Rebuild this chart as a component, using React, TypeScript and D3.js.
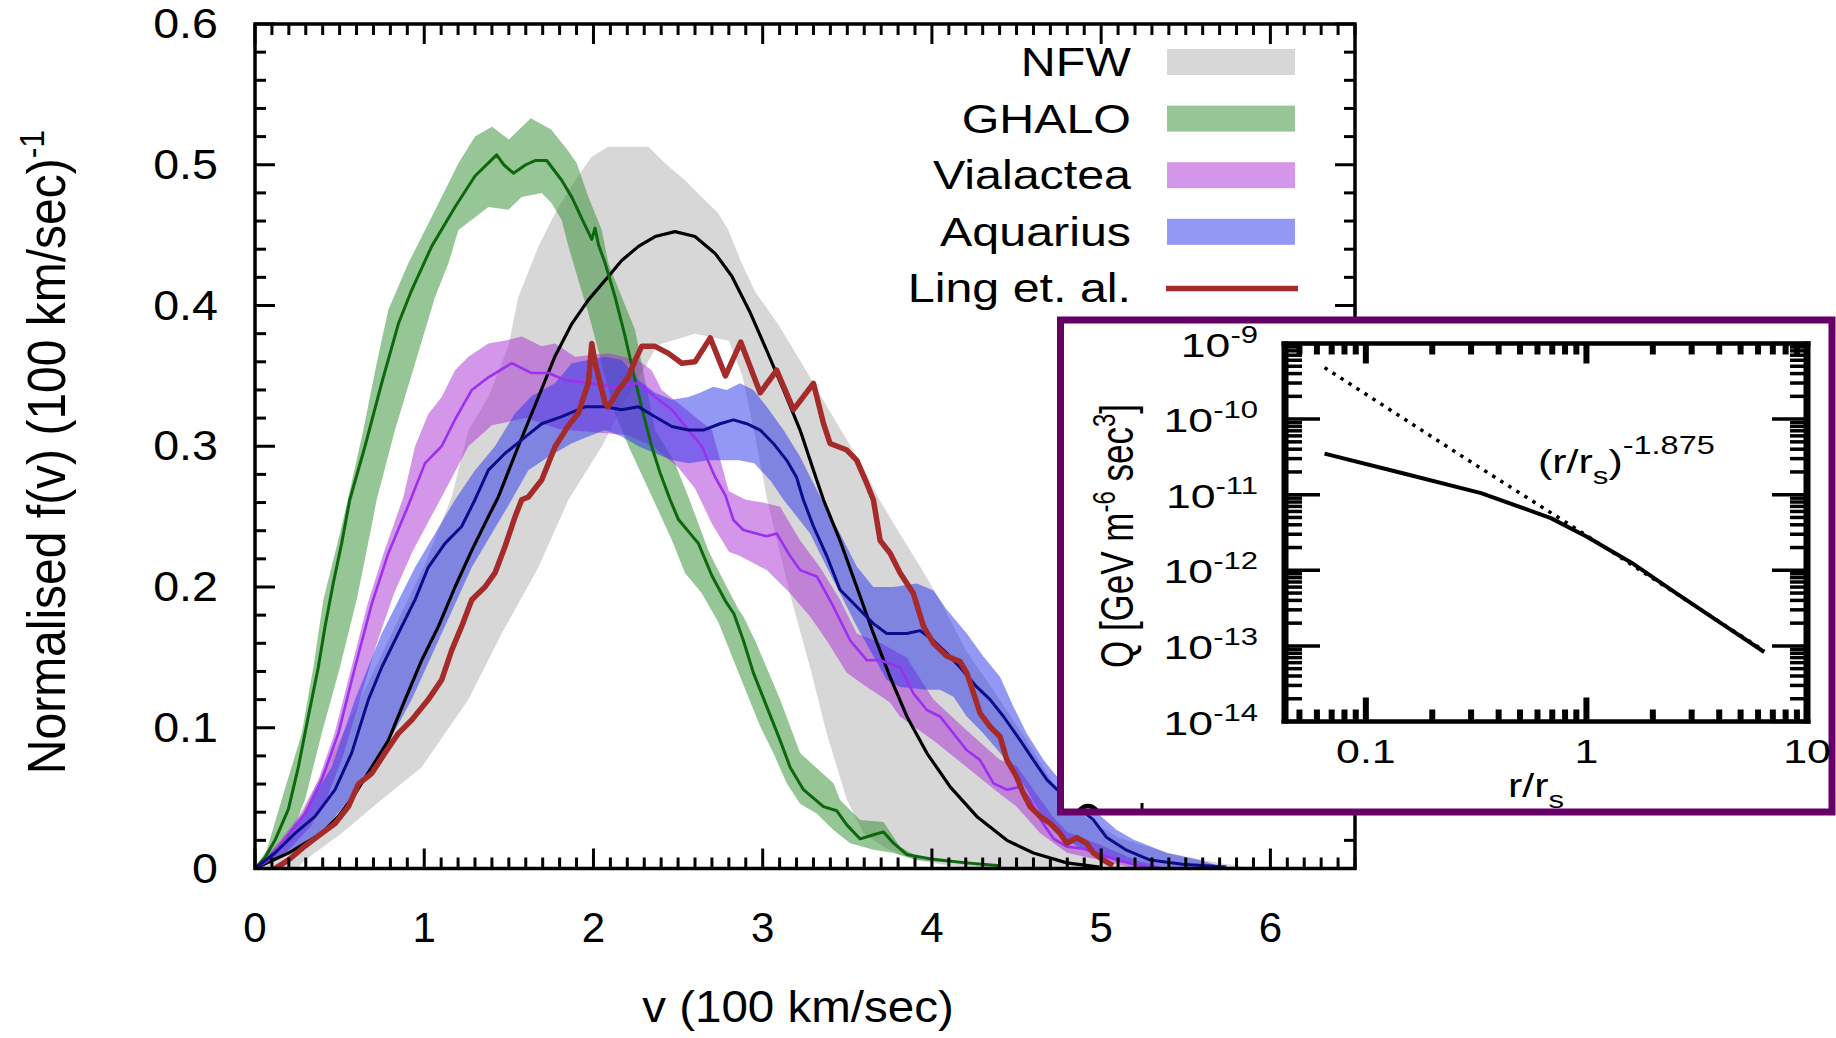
import React, { useEffect, useRef } from "react";
import * as d3 from "d3";

type P = [number, number];

// ---------- main panel data: v (100 km/s), f(v) ----------
const NFW_MEAN: P[] = [[0,0],[0.197,0.011],[0.394,0.025],[0.4925,0.037],[0.591,0.053],[0.69,0.072],[0.788,0.091],[0.887,0.12],[0.985,0.148],[1.084,0.172],[1.182,0.2],[1.281,0.226],[1.379,0.25],[1.438,0.264],[1.556,0.3],[1.675,0.335],[1.773,0.364],[1.872,0.387],[1.97,0.404],[2.069,0.418],[2.167,0.432],[2.266,0.442],[2.364,0.449],[2.482,0.4525],[2.6,0.449],[2.719,0.437],[2.817,0.421],[2.926,0.395],[3.024,0.368],[3.123,0.34],[3.221,0.3115],[3.3,0.283],[3.359,0.262],[3.457,0.233],[3.556,0.2],[3.654,0.167],[3.753,0.136],[3.852,0.108],[3.97,0.082],[4.108,0.058],[4.265,0.037],[4.443,0.02],[4.6,0.011],[4.797,0.004],[4.99,0.001]];
const NFW_UPPER: P[] = [[0,0],[0.2,0.025],[0.4,0.068],[0.6,0.115],[0.8,0.165],[1.0,0.215],[1.162,0.264],[1.261,0.3115],[1.379,0.335],[1.497,0.371],[1.556,0.406],[1.675,0.442],[1.773,0.4655],[1.891,0.489],[1.99,0.5057],[2.088,0.5128],[2.325,0.5128],[2.423,0.501],[2.541,0.489],[2.64,0.477],[2.738,0.4655],[2.797,0.4536],[2.876,0.43],[2.955,0.41],[3.1,0.385],[3.25,0.355],[3.42,0.32],[3.58,0.288],[3.69,0.262],[3.81,0.238],[3.93,0.2145],[4.05,0.19],[4.2,0.155],[4.4,0.12],[4.56,0.091],[4.72,0.06],[4.9,0.037],[5.1,0.022],[5.4,0.011],[5.6,0.006],[5.9,0]];
const NFW_LOWER: P[] = [[0,0],[0.25,0],[0.296,0.006],[0.512,0.025],[0.749,0.049],[0.985,0.072],[1.261,0.12],[1.458,0.167],[1.675,0.214],[1.852,0.262],[2.05,0.3],[2.2,0.335],[2.38,0.372],[2.6,0.38],[2.8,0.375],[2.88,0.35],[2.95,0.31],[3.03,0.26],[3.1,0.225],[3.17,0.191],[3.28,0.143],[3.378,0.096],[3.497,0.049],[3.595,0.025],[3.733,0.014],[3.9,0.006],[4.2,0],[5.9,0]];

const GHALO_MEAN: P[] = [[0,0],[0.06,0.008],[0.118,0.02],[0.197,0.042],[0.256,0.072],[0.315,0.108],[0.374,0.143],[0.414,0.172],[0.463,0.203],[0.512,0.231],[0.56,0.262],[0.65,0.3],[0.749,0.345],[0.847,0.387],[0.926,0.411],[1.044,0.442],[1.182,0.47],[1.3,0.492],[1.428,0.507],[1.47,0.5],[1.527,0.494],[1.6,0.5],[1.655,0.503],[1.724,0.503],[1.812,0.489],[1.872,0.477],[1.93,0.462],[1.99,0.447],[2.009,0.455],[2.03,0.443],[2.069,0.43],[2.128,0.406],[2.187,0.378],[2.246,0.347],[2.295,0.323],[2.344,0.3],[2.394,0.281],[2.453,0.262],[2.502,0.248],[2.62,0.231],[2.7,0.208],[2.78,0.19],[2.83,0.181],[2.886,0.162],[2.945,0.139],[3.024,0.115],[3.103,0.091],[3.162,0.072],[3.241,0.056],[3.359,0.044],[3.438,0.041],[3.497,0.031],[3.576,0.021],[3.655,0.024],[3.714,0.026],[3.773,0.018],[3.851,0.01],[4.009,0.0065],[4.206,0.004],[4.403,0.002]];
const GHALO_UPPER: P[] = [[0,0],[0.069,0.013],[0.158,0.049],[0.276,0.096],[0.345,0.143],[0.404,0.191],[0.502,0.238],[0.552,0.264],[0.64,0.3115],[0.719,0.359],[0.788,0.397],[0.906,0.43],[1.005,0.4536],[1.103,0.477],[1.202,0.501],[1.3,0.52],[1.4,0.527],[1.5,0.518],[1.63,0.533],[1.75,0.525],[1.85,0.51],[1.901,0.501],[1.97,0.477],[2.049,0.4536],[2.088,0.43],[2.167,0.406],[2.246,0.3826],[2.285,0.359],[2.325,0.335],[2.364,0.3115],[2.482,0.288],[2.561,0.264],[2.679,0.226],[2.758,0.207],[2.857,0.184],[2.886,0.179],[2.955,0.162],[3.103,0.12],[3.221,0.082],[3.418,0.0605],[3.457,0.0487],[3.576,0.0345],[3.714,0.033],[3.812,0.0155],[3.91,0.0085],[4.1,0.005],[4.45,0]];
const GHALO_LOWER: P[] = [[0,0],[0.1,0.006],[0.217,0.025],[0.296,0.049],[0.394,0.096],[0.502,0.143],[0.601,0.191],[0.68,0.238],[0.719,0.262],[0.827,0.3115],[0.946,0.359],[1.064,0.406],[1.143,0.43],[1.202,0.4536],[1.379,0.47],[1.497,0.468],[1.576,0.477],[1.694,0.48],[1.753,0.4726],[1.812,0.4607],[1.852,0.442],[1.911,0.418],[1.97,0.3945],[2.049,0.359],[2.128,0.3234],[2.207,0.3],[2.354,0.262],[2.463,0.2334],[2.541,0.21],[2.64,0.1955],[2.738,0.175],[2.827,0.1482],[2.906,0.1245],[2.985,0.101],[3.063,0.082],[3.142,0.0605],[3.221,0.046],[3.319,0.039],[3.418,0.0274],[3.517,0.018],[3.655,0.0133],[3.773,0.011],[3.91,0.006],[4.1,0.004],[4.45,0]];

const VIA_MEAN: P[] = [[0,0],[0.08,0.006],[0.158,0.018],[0.296,0.039],[0.394,0.063],[0.4925,0.096],[0.591,0.143],[0.69,0.188],[0.788,0.224],[0.896,0.255],[1.005,0.288],[1.103,0.3],[1.182,0.319],[1.281,0.34],[1.379,0.349],[1.517,0.359],[1.635,0.352],[1.734,0.352],[1.832,0.347],[1.97,0.345],[2.128,0.342],[2.266,0.345],[2.364,0.335],[2.463,0.326],[2.561,0.3115],[2.64,0.3],[2.719,0.278],[2.78,0.265],[2.827,0.2476],[2.886,0.2405],[3.024,0.236],[3.083,0.238],[3.162,0.222],[3.221,0.212],[3.32,0.2075],[3.418,0.186],[3.517,0.162],[3.615,0.148],[3.694,0.148],[3.812,0.143],[3.89,0.1245],[3.97,0.1126],[4.048,0.108],[4.127,0.096],[4.206,0.084],[4.285,0.077],[4.364,0.0605],[4.443,0.056],[4.522,0.058],[4.58,0.049],[4.64,0.035],[4.72,0.021],[4.797,0.0155],[4.9,0.014],[4.99,0.0107],[5.09,0.006],[5.23,0.002],[5.39,0]];
const VIA_UPPER: P[] = [[0,0],[0.15,0.02],[0.28,0.04],[0.375,0.063],[0.47,0.096],[0.57,0.143],[0.665,0.188],[0.76,0.224],[0.877,0.264],[0.946,0.3],[1.024,0.323],[1.103,0.335],[1.182,0.354],[1.261,0.3636],[1.379,0.373],[1.497,0.3755],[1.576,0.378],[1.694,0.371],[1.773,0.373],[1.891,0.3636],[2.088,0.366],[2.266,0.361],[2.344,0.354],[2.403,0.34],[2.502,0.3305],[2.6,0.321],[2.699,0.3115],[2.75,0.29],[2.8,0.268],[2.9,0.262],[3.0,0.26],[3.103,0.257],[3.221,0.233],[3.339,0.214],[3.457,0.191],[3.556,0.167],[3.7,0.16],[3.85,0.15],[4.009,0.12],[4.206,0.098],[4.403,0.077],[4.5,0.073],[4.6,0.056],[4.72,0.036],[4.8,0.026],[4.99,0.017],[5.2,0.006],[5.4,0]];
const VIA_LOWER: P[] = [[0,0],[0.19,0.012],[0.33,0.03],[0.425,0.05],[0.52,0.08],[0.62,0.12],[0.72,0.16],[0.82,0.195],[0.93,0.225],[1.103,0.264],[1.261,0.3],[1.4,0.315],[1.6,0.32],[1.8,0.312],[2.0,0.31],[2.2,0.308],[2.35,0.3],[2.5,0.285],[2.6,0.27],[2.7,0.245],[2.8,0.225],[2.866,0.222],[3.024,0.212],[3.162,0.1955],[3.28,0.179],[3.378,0.162],[3.497,0.139],[3.615,0.129],[3.753,0.118],[3.81,0.108],[4.009,0.091],[4.206,0.072],[4.403,0.053],[4.5,0.044],[4.64,0.025],[4.8,0.011],[4.99,0.006],[5.2,0],[5.4,0]];

const AQ_MEAN: P[] = [[0,0],[0.118,0.011],[0.236,0.025],[0.355,0.037],[0.473,0.056],[0.571,0.082],[0.67,0.12],[0.749,0.143],[0.847,0.167],[0.946,0.191],[1.024,0.214],[1.123,0.231],[1.221,0.243],[1.3,0.262],[1.379,0.283],[1.478,0.295],[1.576,0.3045],[1.694,0.316],[1.812,0.321],[1.95,0.328],[2.069,0.328],[2.167,0.326],[2.266,0.328],[2.364,0.321],[2.463,0.314],[2.561,0.3115],[2.65,0.3115],[2.748,0.316],[2.827,0.3187],[2.906,0.316],[2.985,0.3115],[3.063,0.302],[3.142,0.29],[3.2,0.278],[3.24,0.262],[3.3,0.243],[3.379,0.222],[3.457,0.198],[3.556,0.186],[3.654,0.174],[3.733,0.167],[3.851,0.167],[3.93,0.169],[4.009,0.162],[4.087,0.153],[4.166,0.143],[4.265,0.129],[4.344,0.12],[4.423,0.108],[4.522,0.091],[4.6,0.077],[4.68,0.063],[4.74,0.056],[4.85,0.045],[4.954,0.0345],[5.033,0.022],[5.15,0.013],[5.29,0.006],[5.48,0.003],[5.74,0.001]];
const AQ_UPPER: P[] = [[0,0],[0.217,0.025],[0.453,0.072],[0.591,0.12],[0.749,0.167],[0.946,0.214],[1.182,0.262],[1.3,0.283],[1.418,0.3],[1.537,0.3234],[1.635,0.3357],[1.773,0.3447],[1.872,0.359],[1.97,0.3613],[2.069,0.3636],[2.167,0.3613],[2.266,0.347],[2.364,0.338],[2.463,0.333],[2.561,0.335],[2.63,0.338],[2.708,0.3423],[2.787,0.34],[2.866,0.3447],[2.945,0.34],[3.024,0.328],[3.123,0.3115],[3.221,0.2926],[3.3,0.2736],[3.379,0.255],[3.457,0.238],[3.556,0.2145],[3.654,0.2],[3.773,0.2],[3.91,0.2025],[4.009,0.1975],[4.087,0.184],[4.206,0.167],[4.304,0.1506],[4.403,0.136],[4.482,0.115],[4.56,0.096],[4.66,0.077],[4.72,0.068],[4.85,0.05],[5.0,0.037],[5.09,0.0275],[5.19,0.0206],[5.39,0.011],[5.58,0.006],[5.75,0]];
const AQ_LOWER: P[] = [[0,0],[0.394,0.025],[0.709,0.072],[0.926,0.12],[1.103,0.167],[1.281,0.214],[1.517,0.262],[1.615,0.283],[1.734,0.2926],[1.872,0.3022],[1.97,0.3069],[2.069,0.3115],[2.167,0.3069],[2.266,0.3],[2.364,0.295],[2.463,0.2903],[2.561,0.288],[2.679,0.29],[2.86,0.29],[2.95,0.288],[3.05,0.275],[3.123,0.262],[3.28,0.238],[3.379,0.214],[3.457,0.1955],[3.556,0.172],[3.654,0.151],[3.733,0.134],[3.812,0.129],[3.97,0.127],[4.048,0.127],[4.127,0.122],[4.206,0.108],[4.304,0.096],[4.403,0.082],[4.5,0.067],[4.56,0.056],[4.64,0.039],[4.72,0.03],[4.8,0.02],[4.9,0.013],[5.0,0.008],[5.2,0.003],[5.4,0.001],[5.75,0]];

const LING: P[] = [[0.118,0],[0.197,0.006],[0.296,0.016],[0.394,0.025],[0.473,0.032],[0.552,0.044],[0.611,0.06],[0.69,0.0676],[0.768,0.082],[0.847,0.096],[0.926,0.1055],[1.024,0.12],[1.103,0.134],[1.162,0.155],[1.221,0.172],[1.281,0.191],[1.359,0.2],[1.418,0.21],[1.478,0.229],[1.537,0.25],[1.576,0.262],[1.615,0.264],[1.694,0.276],[1.773,0.2997],[1.852,0.3147],[1.91,0.3234],[1.97,0.345],[1.99,0.373],[2.01,0.359],[2.069,0.3305],[2.088,0.328],[2.147,0.3399],[2.206,0.349],[2.246,0.361],[2.285,0.371],[2.364,0.371],[2.443,0.366],[2.522,0.359],[2.6,0.36],[2.69,0.377],[2.78,0.35],[2.87,0.374],[2.985,0.338],[3.083,0.354],[3.182,0.326],[3.3,0.3447],[3.359,0.3163],[3.398,0.302],[3.497,0.2973],[3.556,0.29],[3.615,0.2736],[3.654,0.262],[3.694,0.233],[3.753,0.224],[3.812,0.21],[3.89,0.1955],[3.95,0.172],[4.009,0.16],[4.087,0.151],[4.166,0.147],[4.206,0.139],[4.245,0.125],[4.285,0.1102],[4.344,0.1007],[4.403,0.0936],[4.443,0.0771],[4.5,0.0652],[4.54,0.0534],[4.58,0.044],[4.64,0.037],[4.7,0.032],[4.757,0.025],[4.797,0.0178],[4.856,0.022],[4.915,0.0178],[4.954,0.011],[5.013,0.006],[5.07,0.002]];

// ---------- inset data: r/r_s, Q ----------
const INSET_PROFILE: P[] = [[0.065,3.5e-11],[0.144,1.95e-11],[0.333,1.05e-11],[0.69,4.9e-12],[1.0,2.8e-12],[1.6,1.26e-12],[2.55,5.0e-13],[4.07,2.0e-13],[6.4,8.3e-14]];
const INSET_POWERLAW: P[] = [[0.065,4.8e-10],[0.3,2.7e-11],[1.0,2.9e-12],[6.4,8.6e-14]];

// ---------- ticks / labels ----------
const V_TICKS = [0, 1, 2, 3, 4, 5, 6];
const F_TICKS = [0, 0.1, 0.2, 0.3, 0.4, 0.5, 0.6];
const F_TICK_LABELS = ["0", "0.1", "0.2", "0.3", "0.4", "0.5", "0.6"];
const R_TICKS = [0.1, 1, 10];
const R_TICK_LABELS = ["0.1", "1", "10"];
const Q_EXPONENTS = [-14, -13, -12, -11, -10, -9];
const LEGEND_LABELS = ["NFW", "GHALO", "Vialactea", "Aquarius", "Ling et. al."];

const FONT = "'Liberation Sans', Arial, Helvetica, sans-serif";

export default function App() {
  const ref = useRef<SVGSVGElement | null>(null);

  useEffect(() => {
    const svg = d3.select(ref.current as SVGSVGElement);
    svg.selectAll("*").remove();
    svg.append("rect").attr("width", 1836).attr("height", 1038).attr("fill", "#fff");

    const L = 255, R = 1355, T = 24, B = 868.5;
    const x = d3.scaleLinear().domain([0, 6.5]).range([L, R]);
    const y = d3.scaleLinear().domain([0, 0.6]).range([B, T]);

    const defs = svg.append("defs");
    defs.append("clipPath").attr("id", "plotclip").append("rect")
      .attr("x", L).attr("y", T).attr("width", R - L).attr("height", B - T);

    const line = d3.line<P>().x((d) => x(d[0])).y((d) => y(d[1]));
    const bandPath = (up: P[], lo: P[]) => line([...up, ...lo.slice().reverse()]) + "Z";

    const series = [
      { up: NFW_UPPER, lo: NFW_LOWER, mean: NFW_MEAN, fill: "#a0a0a0", op: 0.42, stroke: "#000000", sw: 3.2 },
      { up: GHALO_UPPER, lo: GHALO_LOWER, mean: GHALO_MEAN, fill: "#2e8b2e", op: 0.5, stroke: "#0d670d", sw: 3 },
      { up: VIA_UPPER, lo: VIA_LOWER, mean: VIA_MEAN, fill: "#aa2dd2", op: 0.5, stroke: "#9b30f2", sw: 2.6 },
      { up: AQ_UPPER, lo: AQ_LOWER, mean: AQ_MEAN, fill: "#2832eb", op: 0.5, stroke: "#0c0c8a", sw: 3 },
    ];

    const plot = svg.append("g").attr("clip-path", "url(#plotclip)");
    series.forEach((s) => {
      plot.append("path").attr("d", bandPath(s.up, s.lo)).attr("fill", s.fill).attr("fill-opacity", s.op).attr("stroke", "none");
    });
    series.forEach((s) => {
      plot.append("path").attr("d", line(s.mean)).attr("fill", "none").attr("stroke", s.stroke)
        .attr("stroke-width", s.sw).attr("stroke-linejoin", "round");
    });
    plot.append("path").attr("d", line(LING)).attr("fill", "none").attr("stroke", "#a52a2a")
      .attr("stroke-width", 5.5).attr("stroke-linejoin", "round");

    // frame and ticks
    const axes = svg.append("g").attr("stroke", "#000");
    const minorV = x.ticks(65);
    const minorF = y.ticks(30);
    const isMajorV = (t: number) => Math.abs(t - Math.round(t)) < 1e-6;
    const isMajorF = (t: number) => Math.abs(t * 10 - Math.round(t * 10)) < 1e-6;
    axes.selectAll("line.xt").data(minorV).join("line").attr("class", "xt")
      .attr("x1", (d) => x(d)).attr("x2", (d) => x(d)).attr("y1", B).attr("y2", (d) => B - (isMajorV(d) ? 20 : 11))
      .attr("stroke-width", 3);
    axes.selectAll("line.xtt").data(minorV).join("line").attr("class", "xtt")
      .attr("x1", (d) => x(d)).attr("x2", (d) => x(d)).attr("y1", T).attr("y2", (d) => T + (isMajorV(d) ? 20 : 11))
      .attr("stroke-width", 3);
    axes.selectAll("line.yt").data(minorF).join("line").attr("class", "yt")
      .attr("y1", (d) => y(d)).attr("y2", (d) => y(d)).attr("x1", L).attr("x2", (d) => L + (isMajorF(d) ? 20 : 11))
      .attr("stroke-width", 3);
    axes.selectAll("line.ytr").data(minorF).join("line").attr("class", "ytr")
      .attr("y1", (d) => y(d)).attr("y2", (d) => y(d)).attr("x1", R).attr("x2", (d) => R - (isMajorF(d) ? 20 : 11))
      .attr("stroke-width", 3);
    axes.append("rect").attr("x", L).attr("y", T).attr("width", R - L).attr("height", B - T)
      .attr("fill", "none").attr("stroke-width", 3.5);

    const txt = svg.append("g").attr("font-family", FONT).attr("fill", "#000");
    V_TICKS.forEach((t) => {
      txt.append("text").attr("x", x(t)).attr("y", 941.5).attr("font-size", 42).attr("text-anchor", "middle").text(String(t));
    });
    F_TICKS.forEach((t, i) => {
      txt.append("text").attr("transform", `translate(218,${y(t) + 14}) scale(1.11,1)`)
        .attr("font-size", 42).attr("text-anchor", "end").text(F_TICK_LABELS[i]);
    });
    txt.append("text").attr("transform", "translate(798,1021.5) scale(1.08,1)")
      .attr("font-size", 44).attr("text-anchor", "middle").text("v (100 km/sec)");
    const yt = txt.append("text").attr("transform", "translate(65,452) scale(1.1,1) rotate(-90)")
      .attr("font-size", 48).attr("text-anchor", "middle");
    yt.append("tspan").text("Normalised f(v) (100 km/sec)");
    yt.append("tspan").attr("font-size", 32).attr("dy", -19).text("-1");

    // legend
    const legendColors = [
      { fill: "#a0a0a0", op: 0.42 }, { fill: "#2e8b2e", op: 0.5 }, { fill: "#aa2dd2", op: 0.5 }, { fill: "#2832eb", op: 0.5 },
    ];
    LEGEND_LABELS.forEach((lab, i) => {
      const cy = 62 + i * 56.6;
      txt.append("text").attr("transform", `translate(1131,${cy + 14}) scale(1.18,1)`)
        .attr("font-size", 41).attr("text-anchor", "end").text(lab);
      if (i < 4) {
        svg.append("rect").attr("x", 1167).attr("y", cy - 13).attr("width", 128).attr("height", 26)
          .attr("fill", legendColors[i].fill).attr("fill-opacity", legendColors[i].op);
      } else {
        svg.append("line").attr("x1", 1166).attr("x2", 1298).attr("y1", cy).attr("y2", cy)
          .attr("stroke", "#a52a2a").attr("stroke-width", 5.5);
      }
    });

    // ---------- inset ----------
    const ins = svg.append("g");
    ins.append("rect").attr("x", 1060.5).attr("y", 320).attr("width", 771.5).attr("height", 492)
      .attr("fill", "#fff").attr("stroke", "none");
    // fragments of the pasted image peeking above the lower border
    defs.append("clipPath").attr("id", "fragclip").append("rect")
      .attr("x", 1064).attr("y", 796).attr("width", 120).attr("height", 16);
    const frag = ins.append("g").attr("clip-path", "url(#fragclip)");
    frag.append("ellipse").attr("cx", 1088).attr("cy", 818).attr("rx", 11).attr("ry", 12)
      .attr("fill", "none").attr("stroke", "#000").attr("stroke-width", 4.5);
    frag.append("line").attr("x1", 1142).attr("x2", 1142).attr("y1", 803).attr("y2", 814)
      .attr("stroke", "#000").attr("stroke-width", 3);
    ins.append("rect").attr("x", 1060.5).attr("y", 320).attr("width", 771.5).attr("height", 492)
      .attr("fill", "none").attr("stroke", "#660066").attr("stroke-width", 7);

    const iL = 1285, iR = 1807, iT = 343.5, iB = 721.5;
    const xi = d3.scaleLog().domain([0.043, 10]).range([iL, iR]);
    const yi = d3.scaleLog().domain([1e-14, 1e-9]).range([iB, iT]);
    defs.append("clipPath").attr("id", "insclip").append("rect")
      .attr("x", iL).attr("y", iT).attr("width", iR - iL).attr("height", iB - iT);

    const iline = d3.line<P>().x((d) => xi(d[0])).y((d) => yi(d[1]));
    const ic = ins.append("g").attr("clip-path", "url(#insclip)");
    ic.append("path").attr("d", iline(INSET_POWERLAW)).attr("fill", "none").attr("stroke", "#000")
      .attr("stroke-width", 3.5).attr("stroke-dasharray", "3.5 6");
    ic.append("path").attr("d", iline(INSET_PROFILE)).attr("fill", "none").attr("stroke", "#000")
      .attr("stroke-width", 4).attr("stroke-linejoin", "round");

    const mant = (t: number) => Math.round(t / Math.pow(10, Math.floor(Math.log10(t) + 1e-9)));
    const rt = xi.ticks();
    const qt = yi.ticks();
    const it = ins.append("g").attr("stroke", "#000");
    it.selectAll("line.a").data(rt).join("line").attr("class", "a")
      .attr("x1", (d) => xi(d)).attr("x2", (d) => xi(d)).attr("y1", iB).attr("y2", (d) => iB - (mant(d) === 1 ? 24 : 12)).attr("stroke-width", 6);
    it.selectAll("line.b").data(rt).join("line").attr("class", "b")
      .attr("x1", (d) => xi(d)).attr("x2", (d) => xi(d)).attr("y1", iT).attr("y2", (d) => iT + (mant(d) === 1 ? 20 : 11)).attr("stroke-width", 6);
    it.selectAll("line.c").data(qt).join("line").attr("class", "c")
      .attr("y1", (d) => yi(d)).attr("y2", (d) => yi(d)).attr("x1", iL).attr("x2", (d) => iL + (mant(d) === 1 ? 35 : 17)).attr("stroke-width", 3.5);
    it.selectAll("line.d").data(qt).join("line").attr("class", "d")
      .attr("y1", (d) => yi(d)).attr("y2", (d) => yi(d)).attr("x1", iR).attr("x2", (d) => iR - (mant(d) === 1 ? 35 : 17)).attr("stroke-width", 3.5);
    it.append("line").attr("x1", iL).attr("x2", iL).attr("y1", iT - 2).attr("y2", iB + 2).attr("stroke-width", 7);
    it.append("line").attr("x1", iR).attr("x2", iR).attr("y1", iT - 2).attr("y2", iB + 2).attr("stroke-width", 7);
    it.append("line").attr("x1", iL - 3.5).attr("x2", iR + 3.5).attr("y1", iT).attr("y2", iT).attr("stroke-width", 4.5);
    it.append("line").attr("x1", iL - 3.5).attr("x2", iR + 3.5).attr("y1", iB).attr("y2", iB).attr("stroke-width", 4.5);

    const itx = ins.append("g").attr("font-family", FONT).attr("fill", "#000");
    Q_EXPONENTS.forEach((e) => {
      const t = itx.append("text").attr("transform", `translate(1258,${yi(Math.pow(10, e)) + 13}) scale(1.35,1)`)
        .attr("text-anchor", "end").attr("font-size", 33);
      t.append("tspan").text("10");
      t.append("tspan").attr("font-size", 23).attr("dy", -14).text(String(e));
    });
    R_TICKS.forEach((r, i) => {
      itx.append("text").attr("transform", `translate(${xi(r)},763) scale(1.3,1)`)
        .attr("text-anchor", "middle").attr("font-size", 33).text(R_TICK_LABELS[i]);
    });
    const xt = itx.append("text").attr("transform", "translate(1536,797) scale(1.3,1)")
      .attr("text-anchor", "middle").attr("font-size", 33);
    xt.append("tspan").text("r/r");
    xt.append("tspan").attr("font-size", 24).attr("dy", 11).text("s");

    const an = itx.append("text").attr("transform", "translate(1538,473) scale(1.3,1)").attr("font-size", 33);
    an.append("tspan").text("(r/r");
    an.append("tspan").attr("font-size", 24).attr("dy", 11).text("s");
    an.append("tspan").attr("dy", -11).text(")");
    an.append("tspan").attr("font-size", 25).attr("dy", -19).text("-1.875");

    const qy = itx.append("text").attr("transform", "translate(1133,536) scale(1.3,1) rotate(-90)")
      .attr("text-anchor", "middle").attr("font-size", 35);
    qy.append("tspan").text("Q [GeV m");
    qy.append("tspan").attr("font-size", 24).attr("dy", -14).text("-6");
    qy.append("tspan").attr("dy", 14).text(" sec");
    qy.append("tspan").attr("font-size", 24).attr("dy", -14).text("3");
    qy.append("tspan").attr("dy", 14).text("]");
  }, []);

  return (
    <svg ref={ref} width={1836} height={1038}
      style={{ position: "absolute", left: 0, top: 0, display: "block" }} />
  );
}
